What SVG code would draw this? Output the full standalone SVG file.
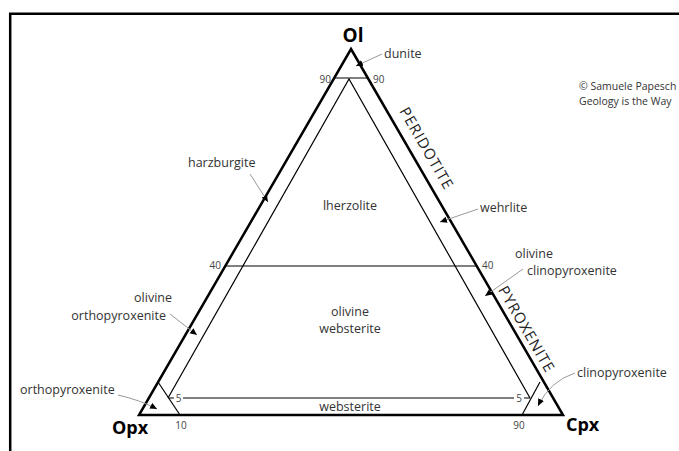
<svg xmlns="http://www.w3.org/2000/svg" width="679" height="451" viewBox="0 0 679 451">
<style>
.lbl{font-family:"Open Sans","Liberation Sans",sans-serif;font-size:12.5px;fill:#333}
.num{font-family:"Open Sans","Liberation Sans",sans-serif;font-size:10px;fill:#444}
.end{font-family:"Open Sans","Liberation Sans",sans-serif;font-weight:bold;fill:#000}
.grp{font-family:"Open Sans","Liberation Sans",sans-serif;font-size:15px;fill:#222;letter-spacing:1px}
.cr{font-family:"Open Sans","Liberation Sans",sans-serif;font-size:10.5px;fill:#333}
.thick{fill:none;stroke:#000;stroke-width:2.5;stroke-linejoin:miter}
.thin{fill:none;stroke:#000;stroke-width:1.2}
.lead{fill:none;stroke:#999;stroke-width:1;marker-end:url(#ah)}
</style>
<defs>
<marker id="ah" viewBox="0 0 10 10" refX="10" refY="5" markerWidth="7" markerHeight="7" orient="auto" markerUnits="userSpaceOnUse">
<path d="M0,0.5 L10,5 L0,9.5 z" fill="#000"/>
</marker>
</defs>
<rect width="679" height="451" fill="#fff"/>
<path d="M10.2,451 V13.8 H679" fill="none" stroke="#000" stroke-width="2.5"/>

<g id="frame-triangle">
<path class="thick" d="M351,49 L563,415 L139,415 Z"/>
<path class="thin" d="M334,78 H368"/>
<path class="thin" d="M168,398 L349,79 L530,398"/>
<path class="thin" d="M225,266 H477"/>
<path class="thin" d="M168,398 H174 M183,398 H514 M524,398 H530"/>
<path class="thin" d="M158,382 L180,415"/>
<path class="thin" d="M540,382 L522,415"/>
</g>

<g id="apices">
<text class="end" x="353" y="42" font-size="19" text-anchor="middle">Ol</text>
<text class="end" x="112" y="434" font-size="18">Opx</text>
<text class="end" x="566" y="431" font-size="18">Cpx</text>
</g>

<g id="ticks">
<text class="num" x="331" y="83" text-anchor="end">90</text>
<text class="num" x="373" y="83">90</text>
<text class="num" x="221" y="269" text-anchor="end">40</text>
<text class="num" x="482" y="269">40</text>
<text class="num" x="178.5" y="401.5" text-anchor="middle">5</text>
<text class="num" x="519" y="401.5" text-anchor="middle">5</text>
<text class="num" x="181" y="429" text-anchor="middle">10</text>
<text class="num" x="519" y="429" text-anchor="middle">90</text>
</g>

<g id="groups">
<text class="grp" transform="translate(422,151) rotate(60)" text-anchor="middle">PERIDOTITE</text>
<text class="grp" transform="translate(522,332) rotate(60)" text-anchor="middle">PYROXENITE</text>
</g>

<g id="connectors">
<path class="lead" d="M382,54 L356,66"/>
<path class="lead" d="M250,174 L268,202"/>
<path class="lead" d="M478,209 L440,222"/>
<path class="lead" d="M523,269 L485,296"/>
<path class="lead" d="M170,314 L197,335"/>
<path class="lead" d="M118,395 Q140,400 157,409"/>
<path class="lead" d="M575,373 Q550,381 538,406"/>
</g>

<g id="dunite"><text class="lbl" x="384" y="58">dunite</text></g>
<g id="harzburgite"><text class="lbl" x="188" y="167">harzburgite</text></g>
<g id="lherzolite"><text class="lbl" x="350" y="210" text-anchor="middle">lherzolite</text></g>
<g id="wehrlite"><text class="lbl" x="480" y="212">wehrlite</text></g>
<g id="olivine-clinopyroxenite"><text class="lbl" x="515" y="258">olivine</text><text class="lbl" x="527" y="275">clinopyroxenite</text></g>
<g id="olivine-orthopyroxenite"><text class="lbl" x="172" y="302" text-anchor="end">olivine</text><text class="lbl" x="166" y="320" text-anchor="end">orthopyroxenite</text></g>
<g id="olivine-websterite"><text class="lbl" x="350" y="316" text-anchor="middle">olivine</text><text class="lbl" x="350" y="333" text-anchor="middle">websterite</text></g>
<g id="websterite"><text class="lbl" x="350" y="411" text-anchor="middle">websterite</text></g>
<g id="orthopyroxenite"><text class="lbl" x="20" y="394">orthopyroxenite</text></g>
<g id="clinopyroxenite"><text class="lbl" x="577" y="377">clinopyroxenite</text></g>
<g id="credit"><text class="cr" x="579" y="90">© Samuele Papesch</text><text class="cr" x="579" y="105">Geology is the Way</text></g>
</svg>
